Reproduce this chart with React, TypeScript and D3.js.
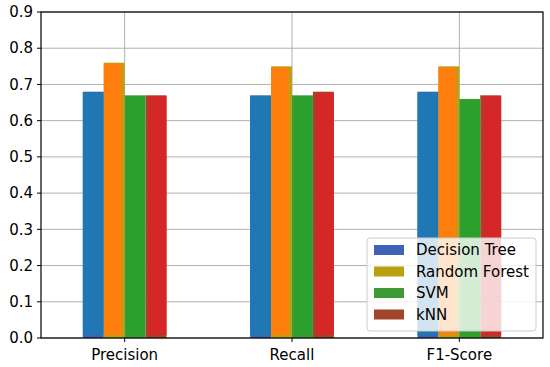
import * as d3 from "d3";

const categories = ["Precision", "Recall", "F1-Score"];
const models = ["Decision Tree", "Random Forest", "SVM", "kNN"];
const decisionTree = [0.68, 0.67, 0.68];
const randomForest = [0.76, 0.75, 0.75];
const svm = [0.67, 0.67, 0.66];
const knn = [0.67, 0.68, 0.67];
const yTicks = [0, 0.1, 0.2, 0.3, 0.4, 0.5, 0.6, 0.7, 0.8, 0.9];

const series = [decisionTree, randomForest, svm, knn];
const barColors = ["#1f77b4", "#ff7f0e", "#2ca02c", "#d62728"];
const legendColors = ["#3f62b6", "#b9a10f", "#3d9a35", "#a1452b"];
// the top bars sit slightly off their slot, leaving the legend colour showing
const insets = [[0, 0], [0, 3], [2, 1], [3, 0]];

export default function App() {
  const width = 550;
  const height = 367;
  const marginLeft = 41;
  const marginRight = 7;
  const marginTop = 12;
  const marginBottom = 29;

  const x = d3.scalePoint(categories, [marginLeft, width - marginRight]).padding(0.5);
  const step = x.step();
  const barW = step * 0.125;
  const y = d3.scaleLinear([0, 0.9], [height - marginBottom, marginTop]);

  const font = "'DejaVu Sans', sans-serif";

  return (
    <svg width={width} height={height} style={{ position: "absolute", left: 0, top: 0 }}>
      <rect width={width} height={height} fill="white" />
      {/* grid */}
      <g stroke="#b0b0b0" strokeWidth={1}>
        {yTicks.map((t) => (
          <line key={t} x1={marginLeft} x2={width - marginRight} y1={y(t)} y2={y(t)} />
        ))}
        {categories.map((c) => (
          <line key={c} x1={x(c)} x2={x(c)} y1={marginTop} y2={height - marginBottom} />
        ))}
      </g>
      {/* bars */}
      {series.map((vals, si) => (
        <g key={"u" + si} fill={legendColors[si]}>
          {categories.map((c, ci) => (
            <rect
              key={c}
              x={(x(c) as number) - 2 * barW + si * barW}
              width={barW}
              y={y(vals[ci])}
              height={y(0) - y(vals[ci])}
            />
          ))}
        </g>
      ))}
      {series.map((vals, si) => (
        <g key={"t" + si} fill={barColors[si]}>
          {categories.map((c, ci) => (
            <rect
              key={c}
              x={(x(c) as number) - 2 * barW + si * barW + insets[si][0]}
              width={barW - insets[si][0] - insets[si][1]}
              y={y(vals[ci]) + 1}
              height={y(0) - y(vals[ci]) - 4}
            />
          ))}
        </g>
      ))}
      {/* axes frame */}
      <rect
        x={marginLeft}
        y={marginTop}
        width={width - marginLeft - marginRight}
        height={height - marginTop - marginBottom}
        fill="none"
        stroke="black"
        strokeWidth={1.2}
      />
      <g fontFamily={font} fontSize={15} fill="#000">
        {yTicks.map((t) => (
          <g key={t}>
            <line x1={marginLeft - 4} x2={marginLeft} y1={y(t)} y2={y(t)} stroke="black" />
            <text x={marginLeft - 8} y={y(t)} dy="0.35em" textAnchor="end">
              {d3.format(".1f")(t)}
            </text>
          </g>
        ))}
        {categories.map((c) => (
          <g key={c}>
            <line x1={x(c)} x2={x(c)} y1={height - marginBottom} y2={height - marginBottom + 4} stroke="black" />
            <text x={x(c)} y={height - marginBottom + 22} textAnchor="middle">
              {c}
            </text>
          </g>
        ))}
      </g>
      {/* legend */}
      <g transform="translate(367,238)" fontFamily={font} fontSize={15}>
        <rect width={169} height={93} rx={3} fill="white" fillOpacity={0.8} stroke="#cccccc" />
        {models.map((m, i) => (
          <g key={m} transform={`translate(7,${7 + i * 21.5})`}>
            <rect width={30} height={10} fill={legendColors[i]} />
            <text x={42} y={5} dy="0.35em" fill="#000">
              {m}
            </text>
          </g>
        ))}
      </g>
    </svg>
  );
}
